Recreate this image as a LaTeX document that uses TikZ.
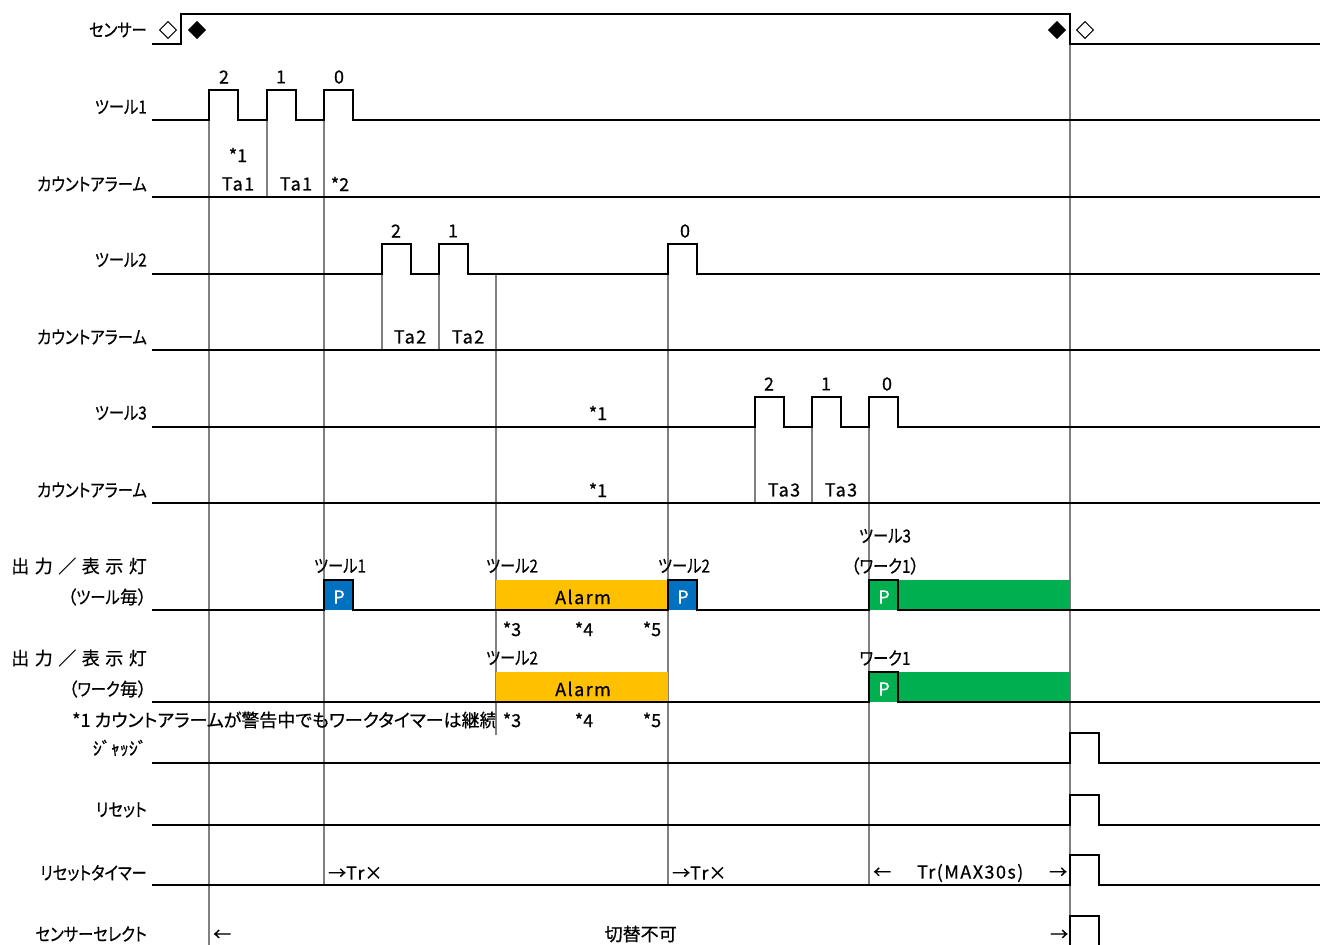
\documentclass[tikz,border=0pt]{standalone}
\usepackage{fontspec}
\setmainfont{Noto Sans CJK JP}[RawFeature=+palt, FakeBold=0.6]
\newfontfamily\hw{Noto Sans CJK JP}[FakeBold=0.6]
\definecolor{gline}{RGB}{128,128,128}
\definecolor{pblue}{RGB}{0,112,192}
\definecolor{porange}{RGB}{255,192,0}
\definecolor{pgreen}{RGB}{0,176,80}
\newcommand\fs{\fontsize{18}{21}\selectfont}
\newcommand\ks{\kern5.5pt}
\newcommand\nx[1]{\scalebox{0.85}[1]{#1}}
\newcommand\ls[1]{{\addfontfeature{LetterSpace=8}#1}}
\begin{document}
\begin{tikzpicture}[x=1pt,y=-1pt,
  every node/.style={font=\fs, inner sep=0pt},
  sig/.style={line width=2.8pt, draw=black},
  gl/.style={line width=2.6pt, draw=gline},
  lab/.style={anchor=east},
  wtxt/.style={text=white}]
\useasboundingbox (0,0) rectangle (1320,945);

% ---------- gray guide lines ----------
\draw[gl] (209,120) -- (209,945);
\draw[gl] (267,120) -- (267,197);
\draw[gl] (324,120) -- (324,885);
\draw[gl] (382,274) -- (382,350);
\draw[gl] (439,274) -- (439,350);
\draw[gl] (496,274) -- (496,735);
\draw[gl] (668,274) -- (668,885);
\draw[gl] (755,427) -- (755,503);
\draw[gl] (812,427) -- (812,503);
\draw[gl] (869,427) -- (869,885);
\draw[gl] (1070,44) -- (1070,945);

% ---------- coloured output blocks ----------
\fill[pblue] (324,580) rectangle (353,610);
\fill[porange] (496,580) rectangle (668,610);
\fill[pblue] (668,580) rectangle (697,610);
\fill[pgreen] (869,580) rectangle (1070,610);
\fill[porange] (496,672) rectangle (668,702);
\fill[pgreen] (869,672) rectangle (1070,702);

% ---------- signals ----------
% sensor
\draw[sig] (152,44) -- (181,44) -- (181,14) -- (1070,14) -- (1070,44) -- (1320,44);
% tool 1
\draw[sig] (152,120) -- (209,120) -- (209,90) -- (238,90) -- (238,120) -- (267,120) -- (267,90) -- (296,90) -- (296,120) -- (324,120) -- (324,90) -- (353,90) -- (353,120) -- (1320,120);
\draw[sig] (152,197) -- (1320,197);
% tool 2
\draw[sig] (152,274) -- (382,274) -- (382,244) -- (411,244) -- (411,274) -- (439,274) -- (439,244) -- (468,244) -- (468,274) -- (668,274) -- (668,244) -- (697,244) -- (697,274) -- (1320,274);
\draw[sig] (152,350) -- (1320,350);
% tool 3
\draw[sig] (152,427) -- (755,427) -- (755,397) -- (784,397) -- (784,427) -- (812,427) -- (812,397) -- (841,397) -- (841,427) -- (869,427) -- (869,397) -- (898,397) -- (898,427) -- (1320,427);
\draw[sig] (152,503) -- (1320,503);
% output per tool
\draw[sig] (152,610) -- (324,610) -- (324,580) -- (353,580) -- (353,610) -- (668,610) -- (668,580) -- (697,580) -- (697,610) -- (869,610) -- (869,580) -- (898,580) -- (898,610) -- (1320,610);
% output per work
\draw[sig] (152,702) -- (869,702) -- (869,672) -- (898,672) -- (898,702) -- (1320,702);
% judge, reset, reset timer, sensor select
\draw[sig] (152,763) -- (1070,763) -- (1070,733) -- (1099,733) -- (1099,763) -- (1320,763);
\draw[sig] (152,825) -- (1070,825) -- (1070,795) -- (1099,795) -- (1099,825) -- (1320,825);
\draw[sig] (152,885) -- (1070,885) -- (1070,855) -- (1099,855) -- (1099,885) -- (1320,885);
\draw[sig] (1070,946) -- (1070,916) -- (1099,916) -- (1099,946);

% ---------- left labels ----------
\node[lab] (l1) at (147,30) {\nx{センサー}};
\node[lab] (l2) at (147,107) {\nx{ツール1}};
\node[lab] (l3) at (147,184) {\nx{カウントアラーム}};
\node[lab] (l4) at (147,260) {\nx{ツール2}};
\node[lab] (l5) at (147,337) {\nx{カウントアラーム}};
\node[lab] (l6) at (147,413) {\nx{ツール3}};
\node[lab] (l7) at (147,490) {\nx{カウントアラーム}};
\node[lab] (l8) at (147,566) {出\ks 力\ks ／\ks 表\ks 示\ks 灯};
\node[lab] (l9) at (147,597) {（\nx{ツール}毎）};
\node[lab] (l10) at (147,658) {出\ks 力\ks ／\ks 表\ks 示\ks 灯};
\node[lab] (l11) at (147,689) {（\nx{ワーク}毎）};
\node[lab] (l12) at (147,748) {\hw ｼﾞｬｯｼﾞ};
\node[lab] (l13) at (147,810) {\nx{リセット}};
\node[lab] (l14) at (147,873) {\nx{リセットタイマー}};
\node[lab] (l15) at (147,934) {\nx{センサーセレクト}};

% ---------- sensor diamonds ----------
\node (d1) at (168,30) {◇};
\node (d2) at (197,30) {◆};
\node (d3) at (1057,30) {◆};
\node (d4) at (1085,30) {◇};

% ---------- pulse counts ----------
\node (c1) at (224,77) {2};
\node (c2) at (281,77) {1};
\node (c3) at (339,77) {0};
\node (c4) at (396,231) {2};
\node (c5) at (453,231) {1};
\node (c6) at (685,231) {0};
\node (c7) at (769,384) {2};
\node (c8) at (826,384) {1};
\node (c9) at (887,384) {0};

% ---------- count alarm texts ----------
\node (a1) at (238,155) {*1};
\node (a2) at (238,184) {\ls{Ta1}};
\node (a3) at (296,184) {\ls{Ta1}};
\node (a4) at (340,184) {*2};
\node (a5) at (410,337) {\ls{Ta2}};
\node (a6) at (468,337) {\ls{Ta2}};
\node (a7) at (598,413) {*1};
\node (a8) at (598,490) {*1};
\node (a9) at (784,490) {\ls{Ta3}};
\node (a10) at (841,490) {\ls{Ta3}};

% ---------- output texts ----------
\node (o1) at (340,566) {\nx{ツール1}};
\node (o2) at (512,566) {\nx{ツール2}};
\node (o3) at (684,566) {\nx{ツール2}};
\node (o4) at (885,536) {\nx{ツール3}};
\node (o5) at (885,566) {（\nx{ワーク1}）};
\node[wtxt] (p1) at (339,597) {P};
\node[wtxt] (p2) at (683,597) {P};
\node[wtxt] (p3) at (884,597) {P};
\node[wtxt] (p4) at (884,689) {P};
\node (al1) at (583,597) {\ls{Alarm}};
\node (al2) at (583,689) {\ls{Alarm}};
\node (s1) at (512,629) {*3};
\node (s2) at (584,629) {*4};
\node (s3) at (652,629) {*5};
\node (o6) at (512,658) {\nx{ツール2}};
\node (o7) at (885,658) {\nx{ワーク1}};
\node (s4) at (512,720) {*3};
\node (s5) at (584,720) {*4};
\node (s6) at (652,720) {*5};

% ---------- footnote (clipped at the cell border) ----------
\begin{scope}
\clip (60,706) rectangle (495,736);
\node[anchor=west] (fn) at (72,720) {*1 カウントアラームが警告中でもワークタイマーは継続};
\end{scope}

% ---------- reset timer / sensor select texts ----------
\node[anchor=west] (r1) at (328,873) {→\ls{Tr}×};
\node[anchor=west] (r2) at (672,873) {→\ls{Tr}×};
\node[anchor=west, text width=194pt] (r3) at (873,873) {←\hfill \ls{Tr(MAX30s)}\hfill →};
\node[anchor=west, text width=855pt] (ss) at (213,934) {←\hfill 切替不可\hfill →};
\end{tikzpicture}
\end{document}
